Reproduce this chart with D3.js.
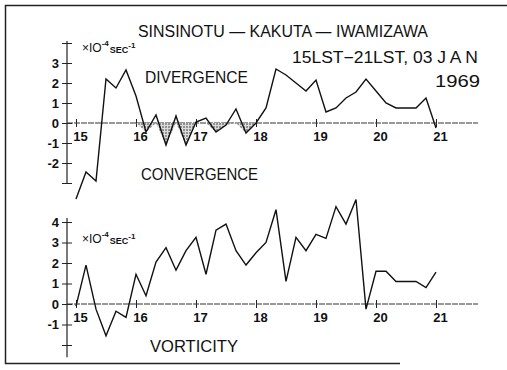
<!DOCTYPE html>
<html>
<head>
<meta charset="utf-8">
<script src="https://cdn.jsdelivr.net/npm/d3@7"></script>
<style>
  body { margin: 0; background: #fff; }
  svg text { font-family: "Liberation Sans", "DejaVu Sans", sans-serif; fill: #111; }
  .tick text { font-size: 13px; font-weight: bold; }
</style>
</head>
<body>
<svg id="chart" width="507" height="370"></svg>
<script>
// hours (LST), one reading every 10 minutes
var hours = d3.range(0, 37).map(function(i){ return 15 + i/6; });

// divergence, x10^-4 sec^-1
var divergence = [-3.8, -2.45, -2.9, 2.2, 1.75, 2.65, 1.35, -0.45, 0.4, -1.1, 0.35, -1.1,
                  0.05, 0.25, -0.45, -0.1, 0.7, -0.5, 0.0, 0.75, 2.7, 2.4, 2.0, 1.6,
                  2.15, 0.55, 0.75, 1.25, 1.55, 2.2, 1.6, 1.0, 0.75, 0.75, 0.75, 1.25, -0.25];

// vorticity, x10^-4 sec^-1
var vorticity = [-0.1, 1.9, -0.25, -1.55, -0.35, -0.65, 1.45, 0.4, 2.05, 2.75, 1.65, 2.6,
                 3.25, 1.45, 3.6, 3.9, 2.6, 1.9, 2.5, 3.0, 4.6, 1.1, 3.25, 2.6,
                 3.4, 3.2, 4.75, 3.9, 5.1, -0.25, 1.6, 1.6, 1.1, 1.1, 1.1, 0.8, 1.55];

var hourTicks = [15, 16, 17, 18, 19, 20, 21];
var divTicks = [4, 3, 2, 1, 0, -1, -2, -3];
var divLabels = [3, 2, 1, 0, -1, -2];
var vorTicks = [4, 3, 2, 1, 0, -1, -2];
var vorLabels = [4, 3, 2, 1, 0, -1];
var shadeFrom = 16, shadeTo = 18;   // stippled convergence

var svg = d3.select("#chart");

// stipple pattern
var pat = svg.append("defs").append("pattern")
    .attr("id", "dots").attr("width", 3).attr("height", 3)
    .attr("patternUnits", "userSpaceOnUse");
pat.append("rect").attr("width", 3).attr("height", 3).attr("fill", "#dcdcdc");
pat.append("circle").attr("cx", 1).attr("cy", 1).attr("r", 0.8).attr("fill", "#333");

// frame
svg.append("path")
    .attr("d", "M507,5.5 L5.5,5.5 L5.5,363.5 L400,363.5")
    .attr("fill", "none").attr("stroke", "#222").attr("stroke-width", 1.5);

var x = d3.scaleLinear().domain([15, 21]).range([76, 436]);
var y1 = d3.scaleLinear().domain([-3, 4]).range([183, 43]);
var y2 = d3.scaleLinear().domain([-2, 4]).range([345, 222]);

function fmt(d){ return d < 0 ? "-" + Math.abs(d) : String(d); }

function panel(y, ticks, labels, yTop, yBot, xLabelDy) {
  var g = svg.append("g");
  // y axis
  var ya = g.append("g").attr("transform", "translate(67,0)")
      .call(d3.axisLeft(y).tickValues(ticks).tickSize(5)
            .tickFormat(function(d){ return labels.indexOf(d) >= 0 ? fmt(d) : ""; }));
  ya.select(".domain").remove();
  ya.selectAll(".tick line").attr("x1", -5).attr("x2", 5).attr("stroke", "#222");
  ya.selectAll(".tick text").attr("x", -8);
  g.append("line").attr("x1", 67).attr("x2", 67)
      .attr("y1", y(yTop)).attr("y2", y(yBot))
      .attr("stroke", "#222").attr("stroke-width", 1.2);

  // x axis on zero line
  var xa = g.append("g").attr("transform", "translate(0," + y(0) + ")")
      .call(d3.axisBottom(x).tickValues(hourTicks).tickSize(4).tickFormat(d3.format("d")));
  xa.select(".domain").remove();
  xa.selectAll(".tick line").attr("y1", -4).attr("y2", 4).attr("stroke", "#222");
  xa.selectAll(".tick text").attr("y", xLabelDy).attr("dx", 4);
  g.append("line").attr("x1", 67).attr("x2", 478)
      .attr("y1", y(0)).attr("y2", y(0))
      .attr("stroke", "#333").attr("stroke-width", 1).attr("stroke-dasharray", "6,1");
  return g;
}

panel(y1, divTicks, divLabels, 4.1, -3.05, 9);
panel(y2, vorTicks, vorLabels, 4.2, -2.6, 9);

// stippled convergence area
var shade = d3.area()
    .defined(function(d){ return d[0] >= shadeFrom && d[0] <= shadeTo; })
    .x(function(d){ return x(d[0]); })
    .y0(y1(0))
    .y1(function(d){ return y1(Math.min(0, d[1])); });
svg.append("path")
    .datum(hours.map(function(h, i){ return [h, divergence[i]]; }))
    .attr("d", shade).attr("fill", "url(#dots)").attr("stroke", "none");

var line1 = d3.line().x(function(d, i){ return x(hours[i]); }).y(function(d){ return y1(d); });
var line2 = d3.line().x(function(d, i){ return x(hours[i]); }).y(function(d){ return y2(d); });

svg.append("path").datum(divergence).attr("d", line1)
    .attr("fill", "none").attr("stroke", "#111").attr("stroke-width", 1.4)
    .attr("stroke-linejoin", "miter");
svg.append("path").datum(vorticity).attr("d", line2)
    .attr("fill", "none").attr("stroke", "#111").attr("stroke-width", 1.4)
    .attr("stroke-linejoin", "miter");

// texts
function label(txt, xx, yy, size, len) {
  var t = svg.append("text").attr("x", xx).attr("y", yy)
      .attr("font-size", size).text(txt);
  if (len) t.attr("textLength", len).attr("lengthAdjust", "spacingAndGlyphs");
  return t;
}
label("SINSINOTU \u2014 KAKUTA \u2014 IWAMIZAWA", 138, 37, 16, 290);
label("15LST\u221221LST, 03  J A N", 292, 63, 16, 186);
label("1969", 435, 87, 16, 45);
label("DIVERGENCE", 145, 83, 16, 103);
label("CONVERGENCE", 141, 180, 16, 117);
label("VORTICITY", 150, 352, 16, 88);

function units(xx, yy) {
  var t = svg.append("text").attr("x", xx).attr("y", yy).attr("font-size", 12);
  t.append("tspan").text("\u00d7IO");
  t.append("tspan").attr("dy", -6).attr("font-size", 8).attr("font-weight", "bold").text("-4");
  t.append("tspan").attr("dy", 7).attr("dx", 1).attr("font-size", 9).attr("font-weight", "bold").text("SEC");
  t.append("tspan").attr("dy", -5).attr("font-size", 8).attr("font-weight", "bold").text("-1");
}
units(82, 52);
units(82, 243);
</script>
</body>
</html>
